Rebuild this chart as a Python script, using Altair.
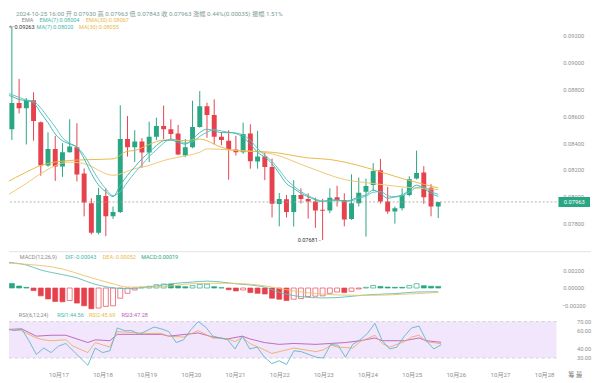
import altair as alt
import numpy as np
import pandas as pd

FONT = "Roboto, 'Noto Sans CJK SC', sans-serif"
GREEN = "#29a683"
RED = "#e5424e"
TEAL = "#45b8ae"
TEAL2 = "#62c3c4"
YEL = "#e9b949"
YEL2 = "#efc873"
GRAY = "#8f8f8f"
RSI_C1 = "#5fb6c8"
RSI_C2 = "#f2ab68"
RSI_C3 = "#bb5bb8"

# ---------------- data (4h candles from 2024-10-15 16:00) ----------------
START = "2024-10-15 16:00"
opens = [0.08718, 0.08503, 0.08698, 0.08659, 0.08718, 0.08555, 0.08234, 0.08357, 0.08227, 0.08332,
         0.08369, 0.08174, 0.07954, 0.07734, 0.08007, 0.07856, 0.07888, 0.08430, 0.08369, 0.08412,
         0.08330, 0.08447, 0.08527, 0.08503, 0.08471, 0.08308, 0.08369, 0.08520, 0.08674, 0.08608,
         0.08447, 0.08418, 0.08352, 0.08332, 0.08471, 0.08264, 0.08300, 0.08222, 0.07947, 0.07983,
         0.07888, 0.08015, 0.07985, 0.07966, 0.07905, 0.07900, 0.07998, 0.07978, 0.07837, 0.07954,
         0.08039, 0.08088, 0.08198, 0.07966, 0.07892, 0.07917, 0.08015, 0.08137, 0.08181, 0.08068,
         0.07930]
highs = [0.08735, 0.09263, 0.08877, 0.08735, 0.08777, 0.08560, 0.08480, 0.08454, 0.08400, 0.08577,
         0.08547, 0.08212, 0.07990, 0.08068, 0.08064, 0.07929, 0.08681, 0.08601, 0.08496, 0.08437,
         0.08559, 0.08588, 0.08679, 0.08577, 0.08535, 0.08430, 0.08715, 0.08786, 0.08700, 0.08725,
         0.08479, 0.08496, 0.08454, 0.08552, 0.08540, 0.08491, 0.08332, 0.08285, 0.08029, 0.08015,
         0.08125, 0.08064, 0.08027, 0.07995, 0.07985, 0.08064, 0.08083, 0.08027, 0.08168, 0.08144,
         0.08137, 0.08251, 0.08283, 0.08075, 0.07929, 0.08064, 0.08154, 0.08344, 0.08229, 0.08095,
         0.07963]
lows = [0.08490, 0.08423, 0.08620, 0.08390, 0.08418, 0.08158, 0.08225, 0.08119, 0.08149, 0.08330,
        0.08115, 0.07856, 0.07722, 0.07722, 0.07709, 0.07837, 0.07880, 0.08300, 0.08260, 0.08215,
        0.08259, 0.08423, 0.08430, 0.08430, 0.08310, 0.08295, 0.08362, 0.08515, 0.08440, 0.08390,
        0.08384, 0.08128, 0.08308, 0.08320, 0.08210, 0.08210, 0.08125, 0.07848, 0.07782, 0.07848,
        0.07780, 0.07951, 0.07839, 0.07771, 0.07681, 0.07880, 0.07929, 0.07782, 0.07830, 0.07929,
        0.07705, 0.08044, 0.07951, 0.07875, 0.07802, 0.07900, 0.08005, 0.08130, 0.07949, 0.07856,
        0.07843]
closes = [0.08503, 0.08698, 0.08659, 0.08718, 0.08564, 0.08234, 0.08357, 0.08227, 0.08332, 0.08374,
          0.08166, 0.07958, 0.07734, 0.08015, 0.07856, 0.07888, 0.08430, 0.08369, 0.08412, 0.08330,
          0.08447, 0.08527, 0.08503, 0.08467, 0.08315, 0.08369, 0.08520, 0.08674, 0.08608, 0.08447,
          0.08423, 0.08352, 0.08332, 0.08467, 0.08266, 0.08300, 0.08222, 0.07949, 0.07985, 0.07888,
          0.08015, 0.07985, 0.07966, 0.07900, 0.07897, 0.07995, 0.07978, 0.07832, 0.07954, 0.08031,
          0.08081, 0.08193, 0.07966, 0.07892, 0.07917, 0.08015, 0.08132, 0.08178, 0.07998, 0.07929,
          0.07963]

ema7 = [0.08760, 0.08747, 0.08723, 0.08716, 0.08698, 0.08625, 0.08552, 0.08467, 0.08418, 0.08393,
        0.08369, 0.08283, 0.08174, 0.08088, 0.08039, 0.08002, 0.08088, 0.08161, 0.08222, 0.08283,
        0.08332, 0.08381, 0.08418, 0.08423, 0.08405, 0.08393, 0.08430, 0.08478, 0.08503, 0.08491,
        0.08478, 0.08478, 0.08471, 0.08442, 0.08393, 0.08332, 0.08295, 0.08247, 0.08174, 0.08100,
        0.08064, 0.08027, 0.08002, 0.07978, 0.07966, 0.07978, 0.07978, 0.07966, 0.07978, 0.08002,
        0.08015, 0.08051, 0.08027, 0.07990, 0.08002, 0.08015, 0.08051, 0.08088, 0.08064, 0.08027,
        0.08004]
ma7 = [0.08780, 0.08760, 0.08740, 0.08720, 0.08710, 0.08660, 0.08590, 0.08520, 0.08440, 0.08400,
       0.08370, 0.08310, 0.08220, 0.08130, 0.08060, 0.08010, 0.08040, 0.08110, 0.08180, 0.08240,
       0.08300, 0.08350, 0.08400, 0.08430, 0.08420, 0.08400, 0.08410, 0.08450, 0.08480, 0.08500,
       0.08490, 0.08480, 0.08475, 0.08460, 0.08420, 0.08360, 0.08310, 0.08265, 0.08200, 0.08130,
       0.08080, 0.08040, 0.08010, 0.07985, 0.07970, 0.07970, 0.07975, 0.07970, 0.07972, 0.07990,
       0.08005, 0.08035, 0.08040, 0.08010, 0.08000, 0.08008, 0.08035, 0.08070, 0.08075, 0.08040,
       0.08020]
ema30_idx = [0, 3, 5, 9, 11, 15, 17, 18, 20, 22, 25, 27, 30, 32, 37, 42, 45, 47, 51, 55, 60]
ema30_val = [0.08100, 0.08185, 0.08234, 0.08271, 0.08276, 0.08283, 0.08340, 0.08345, 0.08390, 0.08423,
             0.08418, 0.08430, 0.08369, 0.08344, 0.08332, 0.08290, 0.08278, 0.08259, 0.08203, 0.08137,
             0.08067]
ma30_idx = [0, 3, 5, 9, 11, 15, 18, 20, 22, 24, 27, 28, 31, 33, 37, 42, 47, 51, 55, 60]
ma30_val = [0.08002, 0.08100, 0.08174, 0.08259, 0.08247, 0.08161, 0.08210, 0.08234, 0.08271, 0.08295,
            0.08332, 0.08357, 0.08350, 0.08344, 0.08320, 0.08222, 0.08130, 0.08100, 0.08075, 0.08055]

macd_hist = [0.00060, 0.00053, 0.00023, 0.00008, -0.00030, -0.00091, -0.00126, -0.00156, -0.00160, -0.00145,
             -0.00175, -0.00206, -0.00240, -0.00232, -0.00213, -0.00206, -0.00118, -0.00061, -0.00023, 0.00010,
             0.00020, 0.00038, 0.00046, 0.00044, 0.00023, 0.00015, 0.00027, 0.00042, 0.00044, 0.00015,
             0.00004, -0.00019, -0.00034, -0.00023, -0.00053, -0.00061, -0.00069, -0.00118, -0.00130, -0.00145,
             -0.00130, -0.00122, -0.00099, -0.00095, -0.00091, -0.00061, -0.00046, -0.00053, -0.00038, -0.00011,
             0.00008, 0.00030, 0.00019, 0.00011, 0.00008, 0.00008, 0.00030, 0.00050, 0.00027, 0.00021,
             0.00019]
dif_idx = [0, 3, 5, 8, 10, 12, 14, 17, 19, 21, 23, 26, 28, 30, 32, 34, 36, 38, 41, 44, 46, 49, 51, 54, 57, 60]
dif_val = [0.00300, 0.00266, 0.00209, 0.00155, 0.00118, 0.00057, 0.00015, -0.00008, 0.00005, 0.00023,
           0.00049, 0.00069, 0.00080, 0.00069, 0.00049, 0.00035, 0.00010, -0.00050, -0.00100, -0.00115,
           -0.00111, -0.00088, -0.00075, -0.00065, -0.00046, -0.00043]
dea_idx = [0, 3, 8, 11, 15, 17, 21, 26, 31, 36, 39, 42, 46, 50, 57, 60]
dea_val = [0.00290, 0.00275, 0.00221, 0.00144, 0.00049, 0.00011, 0.00011, 0.00050, 0.00055, 0.00025,
           -0.00020, -0.00055, -0.00080, -0.00085, -0.00065, -0.00052]

rsi1_idx = [0, 1, 2, 3, 4, 5, 6, 7, 8, 9, 10, 11, 12, 13, 14, 15, 16, 17, 18, 19, 21, 22, 23, 24, 25,
            26, 27, 28, 29, 31, 32, 33, 34, 35, 36, 37, 38, 39, 40, 41, 43, 44, 45, 46, 47, 48, 49, 50,
            51, 52, 53, 54, 55, 56, 57, 58, 59, 60]
rsi1_val = [59, 62, 60, 62, 49, 34, 41, 36, 43, 46, 38, 30, 22, 41, 36, 38, 63, 60, 60, 56, 64, 62, 59, 47, 50,
            61, 70, 64, 54, 50, 40, 54, 40, 42, 31, 24, 27, 23, 38, 37, 31, 30, 45, 44, 31, 45, 50, 57,
            68, 49, 40, 42, 54, 63, 65, 49, 40, 44.56]
rsi2_idx = [0, 2, 3, 5, 6, 7, 9, 10, 12, 13, 15, 16, 18, 20, 22, 23, 25, 27, 29, 31, 32, 33, 34, 36, 37,
            39, 40, 43, 44, 45, 46, 48, 49, 51, 52, 53, 55, 56, 57, 58, 60]
rsi2_val = [61, 61, 60, 52, 50, 49, 50, 43, 36, 47, 42, 59, 58, 57, 57, 54, 53, 60, 52, 51, 48, 53, 46, 39, 35,
            39, 41, 37, 39, 44, 42, 41, 48, 55, 46, 42, 48, 53, 55, 48, 45.69]
rsi3_idx = [0, 3, 5, 7, 9, 12, 13, 15, 16, 19, 22, 23, 27, 29, 31, 33, 34, 36, 38, 40, 43, 45, 47, 49, 51,
            52, 55, 57, 58, 60]
rsi3_val = [61, 62, 54, 55, 55, 47, 50, 49, 56, 56, 56, 54, 57.5, 53, 51, 54, 51, 47, 45, 46, 45, 46, 47, 49, 52,
            49, 49, 52, 49, 47.28]

day_ticks = list(range(17, 29))
price_ticks = [0.078, 0.080, 0.082, 0.084, 0.086, 0.088, 0.090, 0.092]
macd_ticks = [-0.002, 0.0, 0.002]
rsi_ticks = [30, 40, 60, 70]

# ---------------- frames ----------------
n = len(opens)
times = pd.date_range(START, periods=n, freq="4h")
cd = pd.DataFrame({"t": times, "o": opens, "h": highs, "l": lows, "c": closes})
ma_df = pd.DataFrame({"t": times, "ema7": ema7, "ma7": ma7})


def knots(idx, vals):
    return pd.DataFrame({"t": times[idx], "v": vals})


md = pd.DataFrame({"t": times, "m": macd_hist})
md["rising"] = md["m"].diff() > 0
md["sgn"] = np.where(md["m"] >= 0, "pos", "neg")

W = 555
H1, H2, H3 = 245, 60, 57
HFS = 5.6  # header font size

x_scale = alt.Scale(domain=[alt.DateTime(year=2024, month=10, date=15, hours=21, minutes=8),
                            alt.DateTime(year=2024, month=10, date=28, hours=6, minutes=43)])
X = alt.X("t:T", scale=x_scale, axis=None)


def right_axis(values, fmt):
    return alt.Axis(orient="right", values=values, format=fmt, title=None, grid=False,
                    ticks=False, domain=False, labelColor=GRAY, labelFontSize=5.8,
                    labelFont=FONT, labelAlign="center", labelPadding=17,
                    labelOverlap=False, labelFlush=False)


AX_MAIN = right_axis(price_ticks, ".5f")
AX_MACD = right_axis(macd_ticks, ".5f")


def label(text, x, y, color, size=HFS, align="left"):
    return alt.Chart(pd.DataFrame({"a": [0]})).mark_text(
        text=text, align=align, baseline="middle", fontSize=size, font=FONT, color=color
    ).encode(x=alt.value(x), y=alt.value(y))


# ---------------- main panel ----------------
y_main = alt.Scale(domain=[0.075897, 0.093846])


def YM(field):
    return alt.Y(f"{field}:Q", scale=y_main, axis=AX_MAIN)


ccol = alt.condition("datum.c >= datum.o", alt.value(GREEN), alt.value(RED))

wicks = alt.Chart(cd).mark_rule(clip=True, strokeWidth=1).encode(
    x=X, y=YM("l"), y2="h:Q", color=ccol)
bodies = alt.Chart(cd).mark_bar(size=5, clip=True).encode(
    x=X, y=YM("o"), y2="c:Q", color=ccol)


def line(df, field, color, width=1.0):
    return alt.Chart(df).mark_line(clip=True, strokeWidth=width, color=color, interpolate="monotone").encode(
        x=X, y=YM(field))


l_ema7 = line(ma_df, "ema7", TEAL)
l_ma7 = line(ma_df, "ma7", TEAL2)
l_ema30 = line(knots(ema30_idx, ema30_val), "v", YEL)
l_ma30 = line(knots(ma30_idx, ma30_val), "v", YEL2)

last = pd.DataFrame({"p": [closes[-1]], "lab": [f"{closes[-1]:.5f}"]})
price_line = alt.Chart(last).mark_rule(strokeDash=[2, 2], color="#a0a0a0", strokeWidth=0.8).encode(
    y=YM("p"))
price_box = alt.Chart(last).mark_rect(color=GREEN, height=10).encode(
    x=alt.value(557), x2=alt.value(589), y=YM("p"))
price_txt = alt.Chart(last).mark_text(color="white", fontSize=5.8, font=FONT).encode(
    x=alt.value(573), y=YM("p"), text="lab:N")

imax = int(np.argmax(highs))
imin = int(np.argmin(lows))
hi_df = pd.DataFrame({"t": [times[imax]], "v": [highs[imax]], "lab": [f"←{highs[imax]:.5f}"]})
lo_df = pd.DataFrame({"t": [times[imin]], "v": [lows[imin]], "lab": [f"{lows[imin]:.5f} -"]})
hi_txt = alt.Chart(hi_df).mark_text(align="left", baseline="middle", fontSize=HFS, font=FONT,
                                    color="#333333").encode(
    x=alt.value(0), y=YM("v"), text="lab:N")
lo_txt = alt.Chart(lo_df).mark_text(align="right", baseline="middle", fontSize=HFS, font=FONT,
                                    color="#333333", dx=-2).encode(
    x=X, y=YM("v"), text="lab:N")

sep = alt.Chart(pd.DataFrame({"a": [0]})).mark_rule(color="#e3e3e3", strokeWidth=1).encode(
    x=alt.value(0), x2=alt.value(590), y=alt.value(H1 - 0.5))

main = alt.layer(
    wicks, bodies, l_ma30, l_ema30, l_ma7, l_ema7, price_line, price_box, price_txt, hi_txt, lo_txt, sep,
    label("2024-10-25 16:00  开 0.07930  高 0.07963  低 0.07843  收 0.07963  涨幅 0.44%(0.00035)  振幅 1.51%",
          7, 3.4, "#7d9b97", size=6.3),
    label("EMA", 13, 9.8, "#8a8a8a"),
    label("EMA(7):0.08004", 31, 9.8, TEAL),
    label("EMA(30):0.08067", 78, 9.8, YEL),
    label("MA(7):0.08020", 28, 16.6, TEAL),
    label("MA(30):0.08055", 71, 16.6, YEL),
).properties(width=W, height=H1)

# ---------------- MACD panel ----------------
y_macd = alt.Scale(domain=[-0.002709, 0.004149])
sgn_scale = alt.Scale(domain=["pos", "neg"], range=[GREEN, RED])
hist = alt.Chart(md).mark_bar(size=5, clip=True, strokeWidth=0.7).encode(
    x=X,
    y=alt.Y("m:Q", scale=y_macd, axis=AX_MACD),
    y2=alt.datum(0),
    fill=alt.condition("datum.rising", alt.value("#ffffff"), alt.Fill("sgn:N", scale=sgn_scale, legend=None)),
    stroke=alt.Stroke("sgn:N", scale=sgn_scale, legend=None),
)


def mline(df, color):
    return alt.Chart(df).mark_line(clip=True, strokeWidth=0.9, color=color, interpolate="monotone").encode(
        x=X, y=alt.Y("v:Q", scale=y_macd, axis=AX_MACD))


macd = alt.layer(
    hist, mline(knots(dif_idx, dif_val), "#5bbcb4"), mline(knots(dea_idx, dea_val), "#e7c36a"),
    label("MACD(12,26,9)", 11, 5, "#8a8a8a"),
    label("DIF:-0.00043", 57, 5, TEAL),
    label("DEA:-0.00052", 95, 5, YEL),
    label("MACD:0.00019", 134, 5, GREEN),
).properties(width=W, height=H2)

# ---------------- RSI panel ----------------
y_rsi = alt.Scale(domain=[19.51, 81.14])


def YR(field):
    return alt.Y(f"{field}:Q", scale=y_rsi, axis=None)


band_df = pd.DataFrame({"lo": [rsi_ticks[0]], "hi": [rsi_ticks[-1]]})
band = alt.Chart(band_df).mark_rect(color="#f1e6fb").encode(y=YR("lo"), y2="hi:Q")
dash_hi = alt.Chart(band_df).mark_rule(strokeDash=[3, 3], color="#c9c9c9", strokeWidth=0.8).encode(y=YR("hi"))
dash_lo = alt.Chart(band_df).mark_rule(strokeDash=[3, 3], color="#c9c9c9", strokeWidth=0.8).encode(y=YR("lo"))

rsi_lab_df = pd.DataFrame({"v": rsi_ticks, "lab": [f"{v:.2f}" for v in rsi_ticks]})
rsi_labels = alt.Chart(rsi_lab_df).mark_text(
    align="center", baseline="middle", fontSize=5.8, font=FONT, color=GRAY
).encode(x=alt.value(W + 17 + 11), y=YR("v"), text="lab:N")

x_axis = alt.Axis(values=[alt.DateTime(year=2024, month=10, date=d) for d in day_ticks],
                  format="%m月%d", title=None, grid=False, ticks=False, domain=False,
                  labelColor=GRAY, labelFontSize=6.2, labelFont=FONT, labelPadding=4)
XR = alt.X("t:T", scale=x_scale, axis=x_axis)


def rline(df, color):
    return alt.Chart(df).mark_line(clip=True, strokeWidth=0.9, color=color).encode(x=XR, y=YR("v"))


rsi = alt.layer(
    band, dash_hi, dash_lo, rsi_labels,
    rline(knots(rsi3_idx, rsi3_val), RSI_C3),
    rline(knots(rsi2_idx, rsi2_val), RSI_C2),
    rline(knots(rsi1_idx, rsi1_val), RSI_C1),
    label("RSI(6,12,24)", 10, 3.7, "#8a8a8a"),
    label("RSI1:44.56", 49, 3.7, TEAL),
    label("RSI2:45.69", 81, 3.7, YEL),
    label("RSI3:47.28", 114, 3.7, RSI_C3),
    label("筹  最", 574, 64, "#777777", size=6.4, align="center"),
).properties(width=W, height=H3)

chart = alt.vconcat(main, macd, rsi, spacing=0, bounds="flush").properties(
    padding=0
).configure_view(stroke=None)

chart.save("out.html", embed_options={"renderer": "svg", "actions": False})
